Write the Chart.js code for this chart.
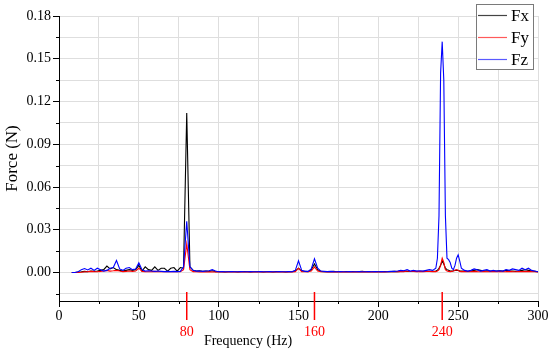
<!DOCTYPE html>
<html><head><meta charset="utf-8">
<script src="https://cdn.jsdelivr.net/npm/chart.js@4"></script>
<style>html,body{margin:0;padding:0;background:#fff}#wrap{width:550px;height:352px;position:relative}</style>
</head><body><div id="wrap"><canvas id="c" width="550" height="352"></canvas></div>
<script>
// ---- data ----
const freq = [8,10,12,14,16,18,20,22,24,26,28,30,32,34,36,38,40,42,44,46,48,50,
  52,54,56,58,60,62,64,66,68,70,72,74,76,78,
  80,
  82,84,86,88,90,92,94,96,98,
  100,102,104,106,108,110,112,114,116,118,120,122,124,126,128,130,132,134,136,138,140,142,144,146,
  148,150,152,154,156,158,160,162,164,
  166,168,170,172,174,176,178,180,182,184,186,188,190,192,194,196,198,200,202,204,206,208,210,212,214,216,218,220,222,224,226,228,230,232,234,
  236,237,238,239,240,241,242,243,244,245,246,247,248,249,250,251,252,
  254,256,258,260,262,264,266,268,270,272,274,276,278,280,282,284,286,288,290,292,294,296,298,300];

const fx = [0,0,0.0003,0.0005,0.0008,0.0005,0.001,0.0008,0.001,0.0015,0.002,0.0045,0.0025,0.0035,0.002,0.0015,0.001,0.0015,0.002,0.0015,0.002,0.005,
  0.001,0.004,0.002,0.0015,0.004,0.0015,0.003,0.003,0.001,0.003,0.0035,0.001,0.0035,0.003,
  0.112,
  0.004,0.0015,0.001,0.0012,0.0008,0.001,0.0008,0.0012,0.0006,
  0.0005,0.0006,0.0004,0.0005,0.0006,0.0005,0.0004,0.0005,0.0006,0.0005,0.0004,0.0005,0.0005,0.0006,0.0004,0.0005,0.0005,0.0004,0.0006,0.0005,0.0005,0.0004,0.0005,0.0006,
  0.001,0.003,0.001,0.0008,0.0006,0.002,0.006,0.002,0.0008,
  0.0006,0.0005,0.0006,0.0008,0.0005,0.0006,0.0005,0.0007,0.0005,0.0006,0.0005,0.0006,0.0008,0.0005,0.0006,0.0005,0.0006,0.0005,0.0007,0.0006,0.0005,0.0006,0.0008,0.0006,0.0008,0.001,0.0008,0.0007,0.0009,0.0008,0.0007,0.0008,0.0009,0.0008,0.0009,
  0.001,0.0015,0.003,0.005,0.008,0.006,0.003,0.002,0.0015,0.001,0.001,0.0012,0.0015,0.0015,0.0015,0.001,0.001,
  0.001,0.0008,0.001,0.0015,0.002,0.0015,0.001,0.0012,0.001,0.0008,0.001,0.0012,0.001,0.0015,0.0012,0.001,0.0008,0.001,0.0015,0.002,0.0015,0.001,0.0008,0.0005];

const fy = [0,0,0,0.0002,0.0005,0.0006,0.0008,0.0006,0.0005,0.0008,0.001,0.0015,0.001,0.0012,0.0015,0.001,0.0006,0.0008,0.001,0.0008,0.001,0.003,
  0.0008,0.0006,0.0005,0.0006,0.0008,0.0005,0.0006,0.0005,0.0006,0.0005,0.0006,0.0005,0.0006,0.002,
  0.020,
  0.002,0.0006,0.0005,0.0004,0.0005,0.0004,0.0005,0.0004,0.0005,
  0.0004,0.0005,0.0004,0.0004,0.0005,0.0004,0.0004,0.0005,0.0004,0.0004,0.0005,0.0004,0.0004,0.0005,0.0004,0.0004,0.0005,0.0004,0.0004,0.0005,0.0004,0.0004,0.0005,0.0004,
  0.0006,0.003,0.0006,0.0005,0.0005,0.001,0.004,0.001,0.0005,
  0.0005,0.0004,0.0005,0.0004,0.0005,0.0004,0.0005,0.0004,0.0005,0.0004,0.0005,0.0004,0.0005,0.0004,0.0005,0.0004,0.0005,0.0004,0.0005,0.0004,0.0005,0.0006,0.0005,0.0006,0.0008,0.0006,0.001,0.0007,0.0008,0.0006,0.0008,0.0006,0.0008,0.0007,0.0006,
  0.0006,0.001,0.002,0.005,0.0101,0.007,0.002,0.001,0.0008,0.0006,0.0008,0.001,0.0015,0.002,0.0015,0.0008,0.0006,
  0.0006,0.0005,0.0006,0.0008,0.0006,0.0005,0.0006,0.0005,0.0006,0.0007,0.0005,0.0006,0.0005,0.0006,0.0008,0.0006,0.0005,0.0006,0.0007,0.0006,0.0008,0.0006,0.0005,0.0004];

const fz = [0,0,0.0005,0.002,0.0028,0.0018,0.003,0.0015,0.003,0.002,0.001,0.0015,0.003,0.0035,0.0084,0.0025,0.0015,0.003,0.0035,0.002,0.0025,0.0068,
  0.002,0.001,0.0012,0.001,0.0008,0.001,0.0008,0.0006,0.0008,0.0006,0.0008,0.0006,0.0008,0.004,
  0.036,
  0.004,0.0015,0.001,0.001,0.0008,0.001,0.0012,0.002,0.001,
  0.0005,0.0006,0.0005,0.0005,0.0006,0.0005,0.0005,0.0006,0.0005,0.0005,0.0006,0.0005,0.0005,0.0006,0.0005,0.0005,0.0006,0.0005,0.0005,0.0006,0.0005,0.0005,0.0006,0.0005,
  0.0015,0.0082,0.0015,0.0008,0.0008,0.0025,0.0096,0.003,0.001,
  0.0008,0.0006,0.0008,0.0006,0.0005,0.0006,0.0005,0.0005,0.0006,0.0005,0.0005,0.0006,0.0005,0.0005,0.0006,0.0005,0.0006,0.0005,0.0006,0.0005,0.0006,0.0008,0.0008,0.001,0.0015,0.0012,0.002,0.001,0.0015,0.001,0.0012,0.001,0.0015,0.002,0.0015,
  0.003,0.01,0.04,0.14,0.162,0.135,0.04,0.01,0.009,0.007,0.003,0.002,0.005,0.01,0.0124,0.008,0.003,
  0.0015,0.001,0.0015,0.0025,0.002,0.001,0.0015,0.002,0.001,0.0015,0.001,0.0012,0.001,0.002,0.0015,0.0025,0.002,0.0015,0.003,0.002,0.003,0.0015,0.001,0.0005];

const seriesNames = ['Fx','Fy','Fz'];
const seriesColors = ['#000000','#ff0000','#0000ff'];
const legendLineColors = ['#444444','#ff5a5a','#5a5aff'];
const xGridValues = [0,25,50,75,100,125,150,175,200,225,250,275,300];
const xMajorTicks = [0,50,100,150,200,250,300];
const yGridValues = [-0.015,0,0.015,0.03,0.045,0.06,0.075,0.09,0.105,0.12,0.135,0.15,0.165,0.18];
const yMajorTicks = [0,0.03,0.06,0.09,0.12,0.15,0.18];
const markedFreqs = [80,160,240];
const markedLabels = ['80','160','240'];
const xTitle = 'Frequency (Hz)';
const yTitle = 'Force (N)';

const FONT = "'Liberation Serif','Times New Roman',serif";
const near = (a,b)=>Math.abs(a-b)<1e-9;
const isMajorY = v => yMajorTicks.some(m=>near(m,v));
const isMajorX = v => xMajorTicks.some(m=>near(m,v));

const series = [fx, fy, fz];
const datasets = series.map((s,i)=>({
  label: seriesNames[i],
  data: freq.map((f,k)=>({x:f, y:s[k]})),
  borderColor: seriesColors[i],
  borderWidth: 1.1,
  pointRadius: 0,
  tension: 0,
  fill: false,
  order: 3 - i
}));

const decor = {
  id: 'decor',
  afterDraw(chart){
    const ctx = chart.ctx;
    const xs = chart.scales.x, ys = chart.scales.y;
    const L = chart.chartArea.left, B = chart.chartArea.bottom;
    ctx.save();
    // minor ticks
    ctx.strokeStyle = '#000'; ctx.lineWidth = 1;
    yGridValues.forEach(v=>{ if(!isMajorY(v)){ const p = Math.round(ys.getPixelForValue(v))+0.5; ctx.beginPath(); ctx.moveTo(L-3,p); ctx.lineTo(L,p); ctx.stroke(); }});
    xGridValues.forEach(v=>{ if(!isMajorX(v)){ const p = Math.round(xs.getPixelForValue(v))+0.5; ctx.beginPath(); ctx.moveTo(p,B); ctx.lineTo(p,B+3); ctx.stroke(); }});
    // red markers
    ctx.strokeStyle = '#ff0000'; ctx.fillStyle = '#ff0000'; ctx.lineWidth = 1.5;
    ctx.font = '14px ' + FONT; ctx.textAlign = 'center'; ctx.textBaseline = 'middle';
    markedFreqs.forEach((f,i)=>{
      const p = xs.getPixelForValue(f);
      ctx.beginPath(); ctx.moveTo(p,292); ctx.lineTo(p,320); ctx.stroke();
      ctx.fillText(markedLabels[i], p, 332);
    });
    // x title
    ctx.fillStyle = '#000';
    ctx.fillText(xTitle, 248, 341);
    // legend
    const bx = 476.5, by = 4.5, bw = 57, bh = 65;
    ctx.fillStyle = '#fff'; ctx.fillRect(bx,by,bw,bh);
    ctx.strokeStyle = '#7a7a7a'; ctx.lineWidth = 1; ctx.strokeRect(bx,by,bw,bh);
    ctx.font = '17px ' + FONT; ctx.textAlign = 'left';
    const rows = [15.5, 37.5, 59.5];
    for (let i = 0; i < seriesNames.length; i++) {
      ctx.beginPath();
      ctx.strokeStyle = legendLineColors[i];
      ctx.lineWidth = 1.2;
      ctx.moveTo(478, rows[i]); ctx.lineTo(507, rows[i]);
      ctx.stroke();
      ctx.fillStyle = '#000';
      ctx.fillText(seriesNames[i], 511, rows[i]+1);
    }
    ctx.restore();
  }
};

new Chart(document.getElementById('c'), {
  type: 'line',
  data: { datasets },
  options: {
    responsive: false, animation: false, devicePixelRatio: 1,
    layout: { padding: { top: 16, right: 12, left: 0, bottom: 0 } },
    plugins: { legend: { display: false }, tooltip: { enabled: false } },
    scales: {
      x: {
        type: 'linear', min: 0, max: 300,
        afterBuildTicks: s => { s.ticks = xGridValues.map(v=>({value:v})); },
        afterFit: s => { s.height = 51; },
        ticks: { autoSkip: false, maxRotation: 0, padding: 1, color: '#000',
          font: { family: FONT, size: 14 },
          callback: v => isMajorX(v) ? String(v) : '' },
        grid: { color: '#dedede', lineWidth: 1, tickLength: 6,
          tickColor: c => (c.tick && isMajorX(c.tick.value)) ? '#000' : 'rgba(0,0,0,0)' },
        border: { display: true, color: '#000', width: 1 }
      },
      y: {
        type: 'linear', min: -0.02, max: 0.18,
        afterBuildTicks: s => { s.ticks = yGridValues.map(v=>({value:v})); },
        afterFit: s => { s.width = 59; },
        ticks: { autoSkip: false, padding: 2, color: '#000',
          font: { family: FONT, size: 14 },
          callback: v => isMajorY(v) ? v.toFixed(2) : '' },
        grid: { color: '#dedede', lineWidth: 1, tickLength: 6,
          tickColor: c => (c.tick && isMajorY(c.tick.value)) ? '#000' : 'rgba(0,0,0,0)' },
        border: { display: true, color: '#000', width: 1 },
        title: { display: true, text: yTitle, color: '#000', font: { family: FONT, size: 17 }, padding: { top: 2, bottom: 0 } }
      }
    }
  },
  plugins: [decor]
});
</script>
</body></html>
